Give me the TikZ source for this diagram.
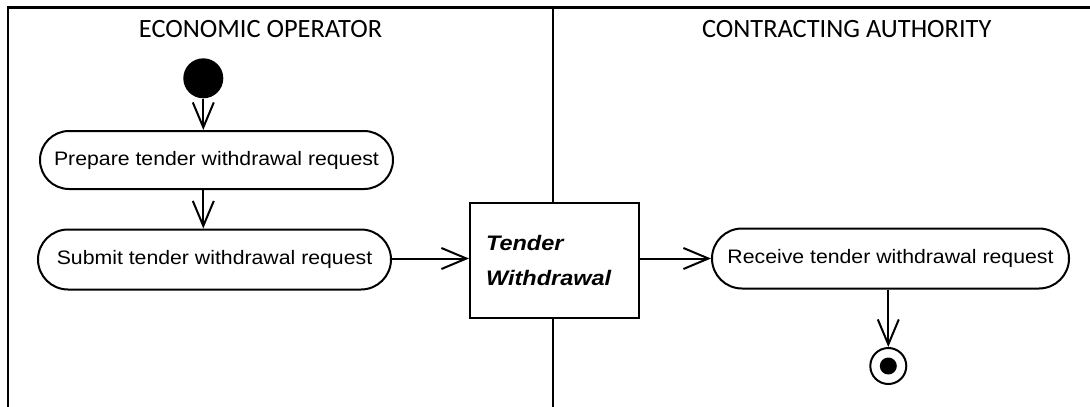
\documentclass[tikz,border=0pt]{standalone}
\usepackage{fontspec}
\setmainfont{Liberation Sans}
\newfontfamily\nodefont[FakeStretch=1.09]{Liberation Sans}
\newfontfamily\boxfont[FakeStretch=1.12]{Liberation Sans}
\newfontfamily\headfont{Carlito}
\usetikzlibrary{arrows.meta,shapes.misc}
\tikzset{
  lane/.style={line width=2.4pt, line cap=rect},
  action/.style={rounded rectangle, draw, line width=2pt, fill=white,
    minimum height=58pt, inner sep=0pt,
    font=\nodefont\fontsize{19.5}{22}\selectfont},
  objbox/.style={rectangle, draw, line width=2pt, fill=white,
    minimum width=169pt, minimum height=115pt, inner sep=0pt,
    text width=137pt, align=left,
    font=\boxfont\bfseries\itshape\fontsize{21}{35}\selectfont},
  heading/.style={inner sep=0pt, font=\headfont\fontsize{26.4}{30}\selectfont},
  flow/.style={line width=2pt, -{Straight Barb[length=25pt,width=21pt]}},
}
\begin{document}
\begin{tikzpicture}[x=1pt,y=-1pt]
\useasboundingbox (0,0) rectangle (1090,407);
% swimlanes
\coordinate (tl) at (8,7.5);
\coordinate (tr) at (1090,7.5);
\coordinate (bl) at (8,407);
\coordinate (dt) at (553,7.5);
\coordinate (db) at (553,407);
\draw[lane] (bl) -- (tl) -- (tr);
\draw[lane] (dt) -- (db);
\node[heading] (h1) at (260.5,29) {ECONOMIC OPERATOR};
\node[heading] (h2) at (846.7,29) {CONTRACTING AUTHORITY};
% nodes
\node[circle, fill, minimum size=40pt, inner sep=0pt] (start) at (203.3,78.3) {};
\node[action, minimum width=353pt] (prep) at (216.5,160) {Prepare tender withdrawal request};
\node[action, minimum width=353pt, minimum height=60pt] (sub) at (214.5,259.5) {Submit tender withdrawal request};
\node[objbox] (box) at (554.5,260.5) {Tender\\Withdrawal};
\node[action, minimum width=357pt, minimum height=60pt] (rec) at (890.5,258.5) {Receive tender withdrawal request};
\node[circle, draw, line width=2pt, minimum size=36pt, inner sep=0pt] (fin) at (888.3,366) {};
\node[circle, fill, minimum size=17pt, inner sep=0pt] (fincore) at (fin) {};
% connectors
\draw[flow] (start) -- (start |- prep.north);
\draw[flow] (prep.south -| start) -- (sub.north -| start);
\draw[flow] (sub.east |- rec) -- (box.west |- rec);
\draw[flow] (box.east |- rec) -- (rec.west);
\draw[flow] (rec.south -| fin) -- (fin.north);
\end{tikzpicture}
\end{document}
